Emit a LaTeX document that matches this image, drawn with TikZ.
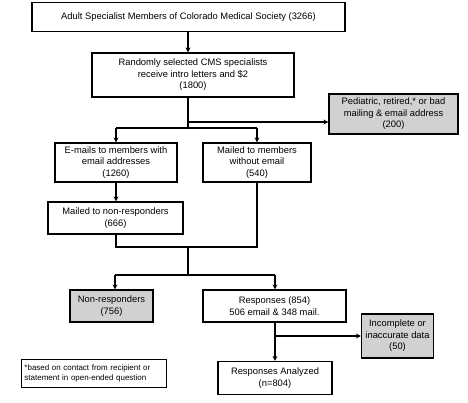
\documentclass[tikz,border=0pt]{standalone}
\usepackage{fontspec}
\setmainfont{Liberation Sans}
\usetikzlibrary{arrows.meta}
\begin{document}
\begin{tikzpicture}[x=1bp,y=-1bp,
  box/.style={draw,line width=1.3bp,align=center,inner sep=1bp,font=\fontsize{9.4}{11.5}\selectfont},
  gbox/.style={box,fill=black!18},
  note/.style={draw,line width=0.7bp,align=left,inner sep=2bp,font=\fontsize{8}{10}\selectfont},
  conn/.style={line width=1.3bp},
  arr/.style={conn,-{Stealth[length=5bp,width=5bp,inset=1.8bp]}}]
\useasboundingbox (0,0) rectangle (468,402);
\node[box,minimum width=313bp,minimum height=29bp] (b1) at (188.5,17) {Adult Specialist Members of Colorado Medical Society (3266)};
\node[box,minimum width=202bp,minimum height=44bp] (b2) at (193,75) {Randomly selected CMS specialists\\receive intro letters and \$2\\(1800)};
\node[gbox,minimum width=129bp,minimum height=40bp] (b3) at (393.5,114) {Pediatric, retired,* or bad\\mailing \& email address\\(200)};
\node[box,minimum width=122bp,minimum height=39bp] (b4) at (116,162.5) {E-mails to members with\\email addresses\\(1260)};
\node[box,minimum width=108bp,minimum height=39bp] (b5) at (257,162.5) {Mailed to members\\without email\\(540)};
\node[box,minimum width=135bp,minimum height=32bp] (b6) at (115.5,218) {Mailed to non-responders\\(666)};
\node[gbox,minimum width=83bp,minimum height=32bp] (b7) at (111.5,306) {Non-responders\\(756)};
\node[box,minimum width=143bp,minimum height=32bp] (b8) at (274.5,306) {Responses (854)\\506 email \& 348 mail.};
\node[gbox,minimum width=72bp,minimum height=44bp] (b9) at (397.5,336) {Incomplete or\\inaccurate data\\(50)};
\node[box,minimum width=114bp,minimum height=33bp] (b10) at (275,378) {Responses Analyzed\\(n=804)};
\node[note,minimum width=145bp,minimum height=28bp,text width=139bp] (b11) at (94,373) {*based on contact from recipient or\\statement in open-ended question};
% connectors
\coordinate (c1) at (188,0);
\draw[arr] (b1.south -| c1) -- (b2.north -| c1);
\coordinate (j1) at (188,122);
\coordinate (j2) at (188,128);
\draw[conn] (b2.south -| c1) -- (j2);
\draw[arr] (j1) -- (b3.west |- j1);
\coordinate (s1) at (116,128);
\coordinate (s2) at (257,128);
\draw[conn] (s1) -- (s2);
\draw[arr] (s1) -- (b4.north -| s1);
\draw[arr] (s2) -- (b5.north -| s2);
\draw[arr] (b4.south -| s1) -- (b6.north -| s1);
\coordinate (m1) at (116,247);
\coordinate (m2) at (257,247);
\coordinate (m3) at (188,247);
\coordinate (m4) at (188,275);
\draw[conn] (b6.south -| m1) -- (m1) -- (m2) -- (b5.south -| m2);
\draw[conn] (m3) -- (m4);
\coordinate (n1) at (115,275);
\coordinate (n2) at (275,275);
\draw[conn] (n1) -- (n2);
\draw[arr] (n1) -- (b7.north -| n1);
\draw[arr] (n2) -- (b8.north -| n2);
\coordinate (r1) at (275,336);
\draw[arr] (b8.south -| r1) -- (b10.north -| r1);
\draw[arr] (r1) -- (b9.west |- r1);
\end{tikzpicture}
\end{document}
